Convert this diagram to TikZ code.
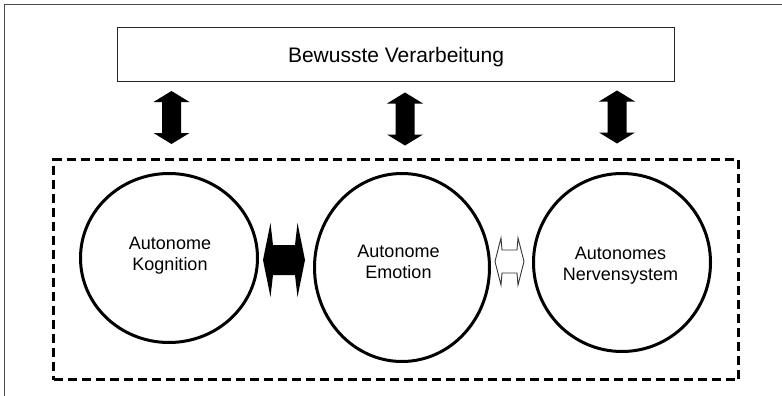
\documentclass[tikz,border=0pt]{standalone}
\usepackage{fontspec}
\setmainfont{Liberation Sans}
\usetikzlibrary{shapes.geometric}
\begin{document}
\begin{tikzpicture}[x=1pt,y=-1pt,
  circ/.style={draw, line width=3pt, ellipse, inner sep=0pt},
  lbl/.style={align=center, font=\fontsize{18}{21}\selectfont, inner sep=0pt},
  topbox/.style={draw=black!85, line width=1pt, minimum width=557pt, minimum height=54pt,
    inner sep=0pt, text depth=0pt, font=\fontsize{21}{25}\selectfont},
  container/.style={draw, line width=3pt, dash pattern=on 9pt off 5pt,
    minimum width=685pt, minimum height=220pt, inner sep=0pt},
  vda/.pic={\fill (0,-26.5) -- (18,-15.5) -- (9.5,-15.5) -- (9.5,15.5) -- (18,15.5)
    -- (0,26.5) -- (-18,15.5) -- (-9.5,15.5) -- (-9.5,-15.5) -- (-18,-15.5) -- cycle;},
  hdablack/.pic={\fill (-21,0) -- (-13.5,-37) -- (-11,-15) -- (11,-15) -- (13.5,-37)
    -- (21,0) -- (13.5,37) -- (11,15) -- (-11,15) -- (-13.5,37) -- cycle;},
  hdawhite/.pic={\draw[line width=0.9pt, black!80, fill=white] (-14.5,0) -- (-8.5,-23.5)
    -- (-7.5,-11.5) -- (7.5,-11.5) -- (8.5,-23.5) -- (14.5,0) -- (8.5,23.5)
    -- (7.5,11.5) -- (-7.5,11.5) -- (-8.5,23.5) -- cycle;}
]
\useasboundingbox (0,0) rectangle (782,396);
\fill[white] (0,0) rectangle (782,396);
% outer frame (runs off the right and bottom edges)
\draw[line width=1pt, black!70] (4.5,396) -- (4.5,4.5) -- (782,4.5);

% top box
\node[topbox] (bv) at (396,54.5) {Bewusste Verarbeitung};

% dashed container
\node[container] (auto) at (396,269.5) {};

% circles
\node[circ, minimum width=177pt, minimum height=169pt] (c1) at (169,258) {};
\node[circ, minimum width=175pt, minimum height=188pt] (c2) at (402,267.5) {};
\node[circ, minimum width=177pt, minimum height=178pt] (c3) at (622,262.5) {};

% labels
\node[lbl] (t1) at (170,255.5) {Autonome\\Kognition};
\node[lbl] (t2) at (398.5,262) {Autonome\\Emotion};
\node[lbl] (t3) at (620.5,266) {Autonomes\\Nervensystem};

% vertical double arrows between top box and container
\coordinate (a1) at (171.5,117.5);
\coordinate (a2) at (405,119);
\coordinate (a3) at (617,117);
\pic at (a1) {vda};
\pic at (a2) {vda};
\pic at (a3) {vda};

% horizontal double arrows between the circles
\coordinate (h1) at (284,260);
\coordinate (h2) at (509.5,261.5);
\pic at (h1) {hdablack};
\pic at (h2) {hdawhite};
\end{tikzpicture}
\end{document}
